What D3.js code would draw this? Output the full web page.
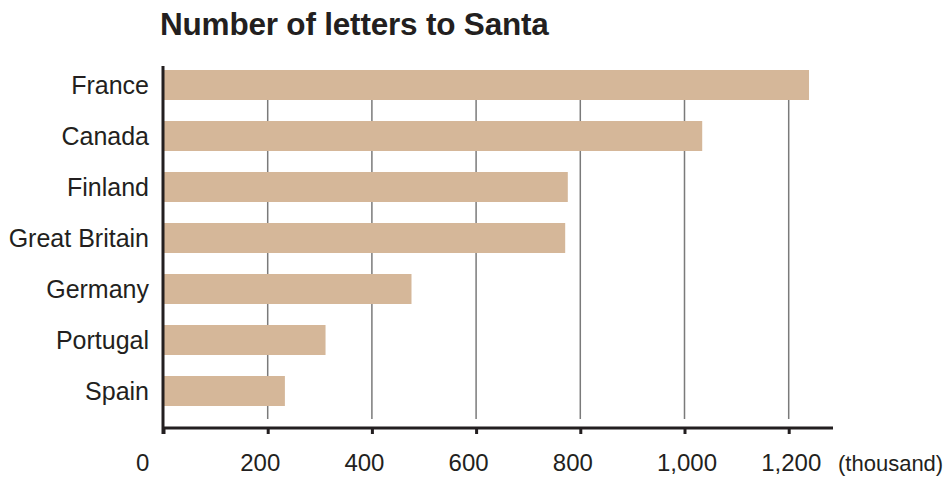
<!DOCTYPE html>
<html>
<head>
<meta charset="utf-8">
<script src="https://cdn.jsdelivr.net/npm/d3@7"></script>
<style>
  html, body { margin: 0; padding: 0; background: #fff; }
  svg { display: block; font-family: "Liberation Sans", Arial, Helvetica, sans-serif; }
</style>
</head>
<body>
<svg id="chart" width="946" height="477"></svg>
<script>
const categories = ["France", "Canada", "Finland", "Great Britain", "Germany", "Portugal", "Spain"];
const values = [1239, 1034, 776, 771, 476, 311, 233];
const tickValues = [0, 200, 400, 600, 800, 1000, 1200];
const tickLabels = ["0", "200", "400", "600", "800", "1,000", "1,200"];
const title = "Number of letters to Santa";
const unitLabel = "(thousand)";

const svg = d3.select("#chart");
const ink = "#231f20";
const barColor = "#d5b799";

const x = d3.scaleLinear().domain([0, 1200]).range([163.5, 788.7]);
const y = d3.scaleBand().domain(categories).range([59.5, 416.5]).paddingInner(0.412).paddingOuter(0.206);

const axisY = 428;

// title
svg.append("text")
  .attr("x", 160).attr("y", 35)
  .attr("font-size", 31.5).attr("font-weight", "bold")
  .attr("fill", ink).attr("letter-spacing", -0.2)
  .text(title);

// gridlines
svg.append("g").selectAll("line")
  .data(tickValues.filter(d => d > 0))
  .join("line")
  .attr("x1", d => x(d)).attr("x2", d => x(d))
  .attr("y1", 70).attr("y2", 419)
  .attr("stroke", "#7a7a7a").attr("stroke-width", 1.5);

// bars
svg.append("g").selectAll("rect")
  .data(categories.map((c, i) => ({ c, v: values[i] })))
  .join("rect")
  .attr("x", x(0))
  .attr("y", d => y(d.c))
  .attr("width", d => x(d.v) - x(0))
  .attr("height", y.bandwidth())
  .attr("fill", barColor);

// category labels
svg.append("g").selectAll("text")
  .data(categories)
  .join("text")
  .attr("x", 149)
  .attr("y", d => y(d) + y.bandwidth() / 2)
  .attr("dy", "0.36em")
  .attr("text-anchor", "end")
  .attr("font-size", 25)
  .attr("fill", ink)
  .text(d => d);

// x axis
const xAxis = d3.axisBottom(x)
  .tickValues(tickValues)
  .tickSize(6)
  .tickFormat((d, i) => tickLabels[i]);

const gx = svg.append("g")
  .attr("transform", `translate(0,${axisY})`)
  .call(xAxis);
gx.select(".domain").remove();
gx.selectAll(".tick line").attr("stroke", ink).attr("stroke-width", 3);
gx.selectAll(".tick text")
  .attr("fill", ink)
  .attr("font-size", 24)
  .attr("font-family", "Liberation Sans, Arial, sans-serif")
  .attr("text-anchor", "start")
  .attr("x", -28)
  .attr("y", 0)
  .attr("dy", 43);

gx.append("line")
  .attr("x1", x(0) - 1.5).attr("x2", 833)
  .attr("y1", 0).attr("y2", 0)
  .attr("stroke", ink).attr("stroke-width", 3);

// y axis line
svg.append("line")
  .attr("x1", x(0) - 0.5).attr("x2", x(0) - 0.5)
  .attr("y1", 66).attr("y2", 434)
  .attr("stroke", ink).attr("stroke-width", 3);

// unit label
svg.append("text")
  .attr("x", 838).attr("y", axisY + 43)
  .attr("font-size", 22)
  .attr("fill", ink)
  .text(unitLabel);
</script>
</body>
</html>
